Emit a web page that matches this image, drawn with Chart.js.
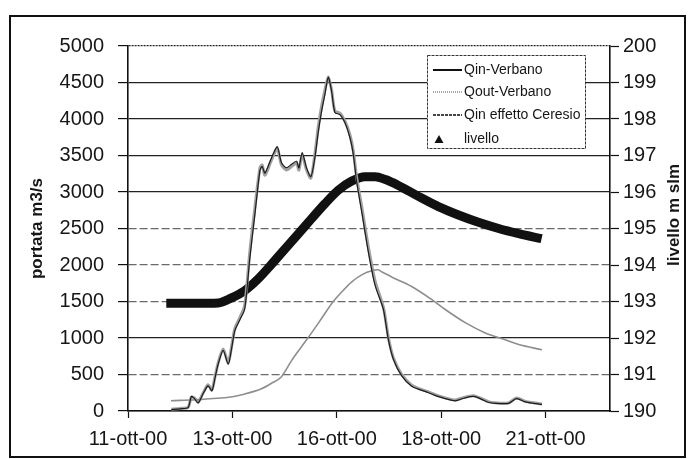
<!DOCTYPE html>
<html><head><meta charset="utf-8">
<script src="https://cdn.jsdelivr.net/npm/chart.js@4.4.1/dist/chart.umd.min.js"></script>
<style>html,body{margin:0;padding:0;background:#fff;}</style>
</head><body>
<canvas id="c" width="689" height="459"></canvas>
<script>
const xTickHours = [0, 60, 120, 180, 240];
const xTickLabels = ['11-ott-00', '13-ott-00', '16-ott-00', '18-ott-00', '21-ott-00'];
const seriesNames = ['Qin-Verbano', 'Qout-Verbano', 'Qin effetto Ceresio', 'livello'];

const qinHours = [24.9, 30, 34.5, 36.4, 38.2, 40.3, 43, 46, 48.2, 50, 51.8, 54.7, 57.6, 59.5, 61.4, 64.3, 67.1, 70, 72.9, 75.8, 77.1, 78.7, 82.5, 85.8, 88.2, 91.1, 94, 96.9, 98.2, 100.1, 102.6, 105.1, 107.4, 109.4, 111.3, 113.2, 115.1, 117, 118.9, 121.8, 124.7, 127.6, 129.5, 131.4, 134.3, 138.1, 142, 146.8, 149.6, 152.5, 157.3, 163, 168, 172.7, 178, 182.3, 188, 193, 198.6, 203.3, 207, 211, 218.7, 223.3, 228.3, 233, 237.9];
const qinValues = [20, 30, 45, 200, 170, 110, 230, 345, 275, 450, 640, 830, 640, 850, 1100, 1250, 1400, 2090, 2690, 3290, 3350, 3260, 3470, 3620, 3400, 3330, 3380, 3420, 3330, 3540, 3330, 3210, 3470, 3830, 4110, 4340, 4570, 4380, 4090, 4060, 3950, 3740, 3510, 3140, 2730, 2180, 1720, 1390, 980, 710, 480, 340, 290, 250, 200, 170, 140, 175, 200, 160, 120, 105, 105, 170, 125, 105, 90];
const ceresioValues = [25, 35, 50, 190, 180, 120, 240, 360, 290, 470, 660, 850, 660, 880, 1130, 1280, 1450, 2180, 2780, 3330, 3370, 3230, 3440, 3590, 3370, 3300, 3350, 3390, 3300, 3510, 3300, 3190, 3520, 3900, 4180, 4400, 4580, 4400, 4110, 4080, 3970, 3780, 3560, 3200, 2800, 2250, 1780, 1420, 1010, 730, 500, 355, 300, 262, 210, 180, 150, 185, 210, 168, 128, 112, 110, 178, 132, 112, 96];

const qoutHours = [24.7, 30, 36, 45, 57, 66.7, 76.3, 82.5, 88.2, 94, 100, 105.5, 111.3, 117, 122.8, 128.6, 134.3, 140, 143.5, 146, 152, 163, 174.6, 182.3, 193.8, 205.3, 216.8, 224.5, 237.9];
const qoutValues = [140, 145, 150, 165, 185, 230, 300, 380, 470, 690, 890, 1070, 1270, 1470, 1630, 1770, 1865, 1920, 1935, 1905, 1830, 1705, 1525, 1390, 1210, 1070, 975, 910, 840];

const livelloHours = [22, 30, 40, 51.8, 59.5, 67.1, 74.8, 82.5, 90.2, 97.8, 105.5, 113.2, 120.9, 128.6, 136.2, 142, 148, 155.4, 166.9, 178.4, 189.9, 201.4, 213, 224.5, 237.7];
const livelloValues = [192.95, 192.95, 192.95, 192.96, 193.1, 193.3, 193.62, 194.02, 194.44, 194.85, 195.27, 195.68, 196.05, 196.3, 196.42, 196.42, 196.34, 196.18, 195.88, 195.6, 195.37, 195.17, 195.0, 194.86, 194.72];

const pts = (hs, vs) => hs.map((h, i) => ({x: h, y: vs[i]}));
const FONT = "'Liberation Sans', Arial, sans-serif";
const INK = '#161616';
const dashedGrid = [500, 1500, 2000, 2500];

const framePlugin = {
  id: 'frame',
  beforeDraw(chart) {
    const c = chart.ctx;
    c.save(); c.fillStyle = '#fff'; c.fillRect(0, 0, chart.width, chart.height); c.restore();
  },
  afterDraw(chart) {
    const c = chart.ctx;
    c.save();
    c.strokeStyle = '#111'; c.lineWidth = 2;
    c.strokeRect(10, 16, 675, 441);
    c.fillStyle = INK;
    c.font = 'bold 17px ' + FONT;
    c.textAlign = 'center'; c.textBaseline = 'middle';
    c.translate(674, 215); c.rotate(-Math.PI / 2);
    c.fillText('livello m slm', 0, 0);
    c.restore();
  }
};

const legendPlugin = {
  id: 'boxLegend',
  beforeDatasetsDraw(chart) {
    const c = chart.ctx;
    const bx = 427, by = 55, bw = 158, bh = 93;
    c.save();
    c.fillStyle = '#fff'; c.fillRect(bx, by, bw, bh);
    c.strokeStyle = '#333'; c.lineWidth = 1; c.setLineDash([3, 1]);
    c.strokeRect(bx + 0.5, by + 0.5, bw, bh);
    const rows = [70, 92, 115, 139];
    const styles = [
      {color: '#111', width: 2, dash: []},
      {color: '#8a8a8a', width: 1.5, dash: [1, 1]},
      {color: '#444', width: 2, dash: [3, 1]},
      null
    ];
    c.font = '14px ' + FONT; c.textBaseline = 'middle'; c.textAlign = 'left';
    seriesNames.forEach((name, i) => {
      const y = rows[i];
      const s = styles[i];
      if (s) {
        c.strokeStyle = s.color; c.lineWidth = s.width; c.setLineDash(s.dash);
        c.beginPath(); c.moveTo(433, y); c.lineTo(462, y); c.stroke();
      } else {
        c.setLineDash([]); c.fillStyle = '#111';
        c.beginPath(); c.moveTo(439, y - 4); c.lineTo(443.5, y + 4); c.lineTo(434.5, y + 4); c.closePath(); c.fill();
      }
      c.fillStyle = INK;
      c.fillText(name, 464, y);
    });
    c.restore();
  }
};

new Chart(document.getElementById('c'), {
  type: 'line',
  data: {
    datasets: [
      {label: seriesNames[0], data: pts(qinHours, qinValues), yAxisID: 'y', borderColor: '#1c1c1c', borderWidth: 1.2, pointRadius: 0, tension: 0.25},
      {label: seriesNames[1], data: pts(qoutHours, qoutValues), yAxisID: 'y', borderColor: '#8e8e8e', borderWidth: 1.6, pointRadius: 0, cubicInterpolationMode: 'monotone'},
      {label: seriesNames[2], data: pts(qinHours, ceresioValues), yAxisID: 'y', borderColor: '#a0a0a0', borderWidth: 3, pointRadius: 0, tension: 0.25},
      {label: seriesNames[3], data: pts(livelloHours, livelloValues), yAxisID: 'y2', borderColor: '#111', borderWidth: 9, pointRadius: 0, cubicInterpolationMode: 'monotone', borderCapStyle: 'butt'}
    ]
  },
  options: {
    responsive: false,
    animation: false,
    devicePixelRatio: 1,
    layout: {padding: {left: 10, top: 46, right: 0, bottom: 0}},
    plugins: {legend: {display: false}, tooltip: {enabled: false}},
    scales: {
      x: {
        type: 'linear', min: 0, max: 277,
        afterBuildTicks: (s) => { s.ticks = xTickHours.map(v => ({value: v})); },
        afterFit: (s) => { s.height = 48; },
        ticks: {
          callback: (v) => { const i = xTickHours.indexOf(v); return i >= 0 ? xTickLabels[i] : ''; },
          font: {family: FONT, size: 20}, color: INK, padding: 9, maxRotation: 0, autoSkip: false
        },
        grid: {drawOnChartArea: false, drawTicks: true, tickLength: 7, tickColor: '#111', tickWidth: 1.2},
        border: {color: '#111', width: 1.6}
      },
      y: {
        position: 'left', min: 0, max: 5000,
        afterFit: (s) => { s.width = 118; },
        ticks: {stepSize: 500, callback: (v) => String(v), font: {family: FONT, size: 20}, color: INK, padding: 14},
        title: {display: true, text: 'portata m3/s', font: {family: FONT, size: 17, weight: 'bold'}, color: INK, padding: {top: 17, bottom: 0}},
        grid: {
          color: (ctx) => (ctx.tick && dashedGrid.includes(ctx.tick.value)) ? '#6a6a6a' : '#222',
          lineWidth: 1.2,
          tickLength: 10, tickColor: '#111', tickWidth: 1.2
        },
        border: {
          color: '#111', width: 1.6,
          dash: (ctx) => {
            if (!ctx.tick) return [];
            if (ctx.tick.value === 5000) return [2, 1];
            return dashedGrid.includes(ctx.tick.value) ? [8, 3] : [];
          }
        }
      },
      y2: {
        position: 'right', min: 190, max: 200,
        afterFit: (s) => { s.width = 79; },
        ticks: {stepSize: 1, callback: (v) => String(v), font: {family: FONT, size: 20}, color: INK, padding: 4},
        grid: {drawOnChartArea: false, tickLength: 9, tickColor: '#111', tickWidth: 1.2},
        border: {color: '#111', width: 1.6}
      }
    }
  },
  plugins: [framePlugin, legendPlugin]
});
</script>
</body></html>
